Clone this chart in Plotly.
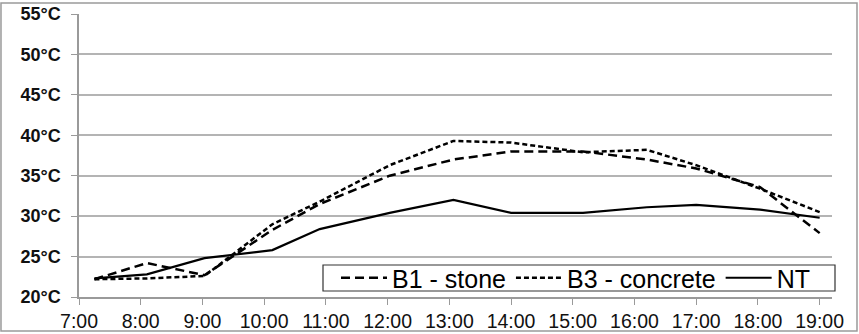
import plotly.graph_objects as go

times = ["07:15", "08:06", "09:02", "10:08", "10:54", "12:02", "13:04",
         "14:00", "15:10", "16:12", "17:00", "18:02", "19:00"]
b1_stone = [22.2, 24.2, 22.7, 28.3, 31.5, 35.0, 37.0, 38.0, 38.0, 37.0, 35.9, 33.6, 27.9]
b3_concrete = [22.2, 22.3, 22.6, 29.0, 31.8, 36.3, 39.3, 39.1, 37.9, 38.2, 36.3, 33.4, 30.5]
nt = [22.3, 22.8, 24.8, 25.8, 28.4, 30.4, 32.0, 30.4, 30.4, 31.1, 31.4, 30.8, 29.8]

hour_ticks = ["07:00", "08:00", "09:00", "10:00", "11:00", "12:00", "13:00",
              "14:00", "15:00", "16:00", "17:00", "18:00", "19:00"]
y_ticks = [20, 25, 30, 35, 40, 45, 50, 55]
y_labels = ["<b>%d°C</b>" % v for v in y_ticks]

day = "2000-01-01 "
x = [day + t for t in times]

fig = go.Figure()
fig.add_trace(go.Scatter(x=x, y=b1_stone, mode="lines", name="B1 - stone",
                         line=dict(color="black", width=2.5, dash="9px,5px")))
fig.add_trace(go.Scatter(x=x, y=b3_concrete, mode="lines", name="B3 - concrete",
                         line=dict(color="black", width=2.5, dash="5px,3px")))
fig.add_trace(go.Scatter(x=x, y=nt, mode="lines", name="NT",
                         line=dict(color="black", width=2.2)))

fig.update_layout(
    width=859, height=334,
    margin=dict(l=79, r=27, t=14, b=37, autoexpand=False),
    paper_bgcolor="white", plot_bgcolor="white",
    font=dict(family="Liberation Sans, Arial, sans-serif", color="black"),
    xaxis=dict(
        type="date",
        automargin=False,
        range=[day + "07:00", day + "19:12"],
        tickvals=[day + t for t in hour_ticks],
        tickformat="%-H:%M",
        showgrid=False, zeroline=False,
        showline=True, linecolor="#9a9a9a", linewidth=1.5,
        ticks="outside", ticklen=6, tickcolor="#9a9a9a", tickwidth=1,
        tickfont=dict(size=19.5, color="#111"),
    ),
    yaxis=dict(
        automargin=False,
        range=[20, 55],
        tickmode="array",
        tickvals=y_ticks,
        ticktext=y_labels,
        showgrid=True, gridcolor="#b4b4b4", gridwidth=1.5,
        zeroline=False,
        showline=True, linecolor="#9a9a9a", linewidth=1.5,
        ticks="outside", ticklen=6, tickcolor="#9a9a9a",
        tickfont=dict(size=18, color="#111"),
        ticklabelstandoff=7,
    ),
    legend=dict(
        orientation="h",
        x=(336 - 79) / 753, xanchor="left",
        y=(297 - 278) / 283, yanchor="middle",
        bgcolor="rgba(0,0,0,0)", borderwidth=0,
        font=dict(size=25, color="black"),
        itemwidth=46,
        traceorder="normal",
    ),
    showlegend=True,
)

# frame around the whole chart
fig.add_shape(type="rect", xref="paper", yref="paper",
              x0=-0.1036, x1=1.0332, y0=-0.120, y1=1.039,
              line=dict(color="#9a9a9a", width=1.5), fillcolor="rgba(0,0,0,0)")
# legend box
fig.add_shape(type="rect", xref="paper", yref="paper", layer="above",
              x0=(323 - 79) / 753, x1=(835 - 79) / 753,
              y0=(297 - 291) / 283, y1=(297 - 265) / 283,
              line=dict(color="#333", width=1.2), fillcolor="white")

fig.write_html("out.html", config={"displayModeBar": False})

# remove the browser's default page margin so the figure sits at the top-left corner
with open("out.html", "r", encoding="utf-8") as f:
    html = f.read()
html = html.replace("<head>", "<head><style>html,body{margin:0;padding:0;overflow:hidden;}</style>", 1)
with open("out.html", "w", encoding="utf-8") as f:
    f.write(html)
